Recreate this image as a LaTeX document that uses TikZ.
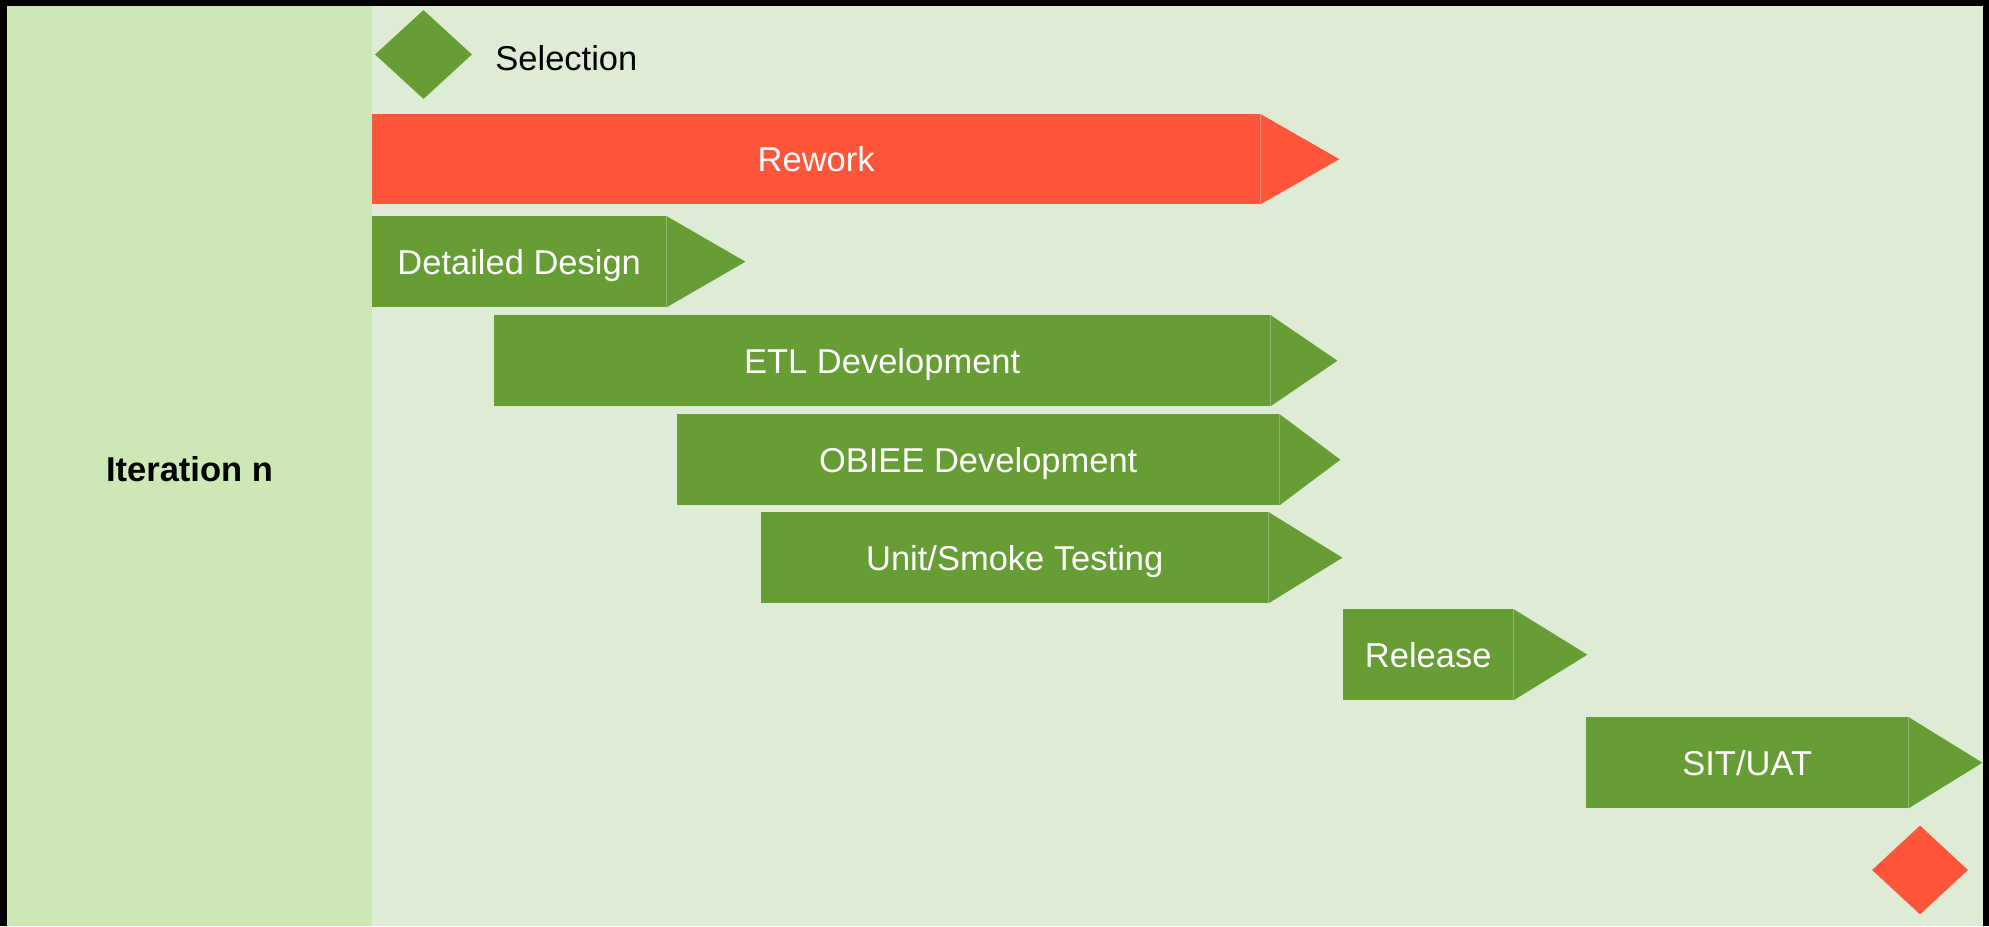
\documentclass[tikz,border=0pt]{standalone}
\usepackage{fontspec}
\setmainfont{Liberation Sans}
\usepackage{tikz}
\usetikzlibrary{shapes.geometric, positioning}
\definecolor{bggreen}{HTML}{DFECD5}
\definecolor{panelgreen}{HTML}{CCE8B5}
\definecolor{phasegreen}{HTML}{669D34}
\definecolor{phasered}{HTML}{FF553A}
\tikzstyle{panel} = [rectangle, fill = panelgreen, anchor = north west,
  inner sep = 0, text = black, font = \fontsize{34.5}{40}\selectfont\bfseries]
\tikzstyle{phase} = [
  rectangle, anchor = north west, inner sep = 0,
  minimum height = 91, fill = phasegreen, text = white,
  text height = 24.7, text depth = 0,
  text centered, font = \fontsize{34.5}{40}\selectfont
]
\tikzstyle{milestone} = [diamond, inner sep = 0, minimum width = 97,
  minimum height = 89]

\begin{document}
\begin{tikzpicture}[x = 1pt, y = -1pt]
      % frame and background
      \fill [black] (0, 0) rectangle (1989, 926);
      \fill [bggreen] (7, 6) rectangle (1983, 926);
      \node [panel, minimum width = 365, minimum height = 920] (iter) at (7, 6) {};
      \node [inner sep = 0, text height = 24.7, text depth = 0,
        font = \fontsize{34.5}{40}\selectfont\bfseries] (iter-label) at (189.5, 469) {Iteration n};

      \node [milestone, fill = phasegreen] (sel) at (423.5, 54.5) {};
      \node [right = 23 of sel, yshift = -3.5, inner sep = 0, text height = 24.7, text depth = 0,
        font = \fontsize{34.5}{40}\selectfont] (sel-label) {Selection};

      \node [phase, fill = phasered, minimum width = 888, minimum height = 90] (rework) at (372, 114) {Rework};
      \node [phase, minimum width = 294] (design) at (372, 216) {Detailed Design};
      \node [phase, minimum width = 776] (etl) at (494, 315) {ETL Development};
      \node [phase, minimum width = 602] (obiee) at (677, 414) {OBIEE Development};
      \node [phase, minimum width = 507] (unit) at (761, 512) {Unit/Smoke Testing};
      \node [phase, minimum width = 170] (release) at (1343, 609) {Release};
      \node [phase, minimum width = 322] (sit) at (1586, 717) {SIT/UAT};

      % arrow heads
      \fill [phasered] (rework.north east) -- ([xshift = 79] rework.east) -- (rework.south east) -- cycle;
      \fill [phasegreen] (design.north east) -- ([xshift = 79] design.east) -- (design.south east) -- cycle;
      \fill [phasegreen] (etl.north east) -- ([xshift = 67] etl.east) -- (etl.south east) -- cycle;
      \fill [phasegreen] (obiee.north east) -- ([xshift = 61] obiee.east) -- (obiee.south east) -- cycle;
      \fill [phasegreen] (unit.north east) -- ([xshift = 74] unit.east) -- (unit.south east) -- cycle;
      \fill [phasegreen] (release.north east) -- ([xshift = 74] release.east) -- (release.south east) -- cycle;
      \fill [phasegreen] (sit.north east) -- ([xshift = 74] sit.east) -- (sit.south east) -- cycle;

      \node [milestone, fill = phasered, minimum width = 96] (end) at (1920, 870) {};
    \end{tikzpicture}
\end{document}
